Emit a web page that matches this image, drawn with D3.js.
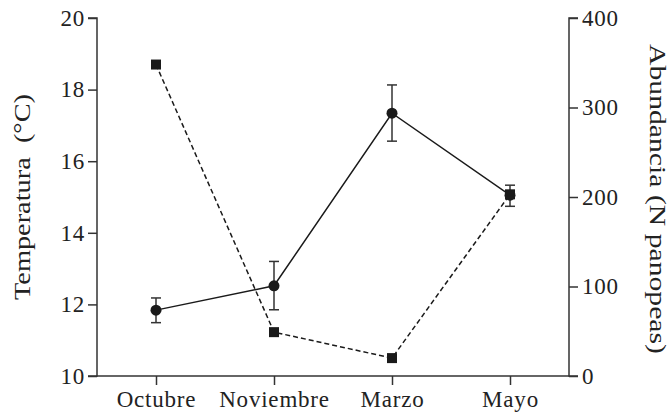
<!DOCTYPE html>
<html>
  <head>
    <meta charset="utf-8">
    <script src="https://cdn.jsdelivr.net/npm/d3@7"></script>
    <style>
      body {margin:0; background:#fff;}
      text {font-family:"Liberation Serif", serif; fill:#222;}
    </style>
  </head>
  <body>
  <script>
    // months on the x axis
    var meses = ["Octubre", "Noviembre", "Marzo", "Mayo"];
    // temperature (mean, low, high)
    var temp = [11.84, 12.52, 17.34, 15.05];
    var tempLo = [11.49, 11.85, 16.56, 14.74];
    var tempHi = [12.18, 13.20, 18.13, 15.33];
    // abundance of panopeas
    var abund = [348, 49, 20, 203];
    var tempTicks = [10, 12, 14, 16, 18, 20];
    var abundTicks = [0, 100, 200, 300, 400];

    var width = 670, height = 414;
    // note: "top" is taken by window.top, so use other names
    var mLeft = 97, mRight = 569, mTop = 18, mBottom = 376;

    var svg = d3.select("body").append("svg")
        .attr("width", width)
        .attr("height", height);

    var x = d3.scalePoint().domain(meses).range([mLeft, mRight]).padding(0.5);
    var yT = d3.scaleLinear().domain([10, 20]).range([mBottom, mTop]);
    var yA = d3.scaleLinear().domain([0, 400]).range([mBottom, mTop]);

    var fs = "23px";

    svg.append("g")
        .attr("transform", "translate(" + mLeft + ",0)")
        .call(d3.axisLeft(yT).tickValues(tempTicks).tickSize(9).tickPadding(3))
        .call(function(g) { g.select(".domain").attr("d", "M-9," + mTop + "H0V" + mBottom + "H-9"); });

    svg.append("g")
        .attr("transform", "translate(" + mRight + ",0)")
        .call(d3.axisRight(yA).tickValues(abundTicks).tickSize(9).tickPadding(4))
        .call(function(g) { g.select(".domain").attr("d", "M9," + mTop + "H0V" + mBottom + "H9"); });

    svg.append("g")
        .attr("transform", "translate(0," + mBottom + ")")
        .call(d3.axisBottom(x).tickSize(9).tickPadding(6))
        .call(function(g) { g.select(".domain").attr("d", "M" + mLeft + ",0H" + mRight); });

    svg.selectAll(".tick text").style("font-size", fs).style("letter-spacing", "0.8px").attr("fill", "#222");
    svg.selectAll(".domain, .tick line").attr("stroke", "#333").attr("stroke-width", 1.5);

    // axis titles (stretched a bit, the original font is wider)
    svg.append("text")
        .attr("transform", "translate(30," + ((mTop + mBottom) / 2) + ") rotate(-90)")
        .attr("text-anchor", "middle")
        .style("font-size", "24px")
        .style("white-space", "pre")
        .attr("textLength", 206)
        .attr("lengthAdjust", "spacingAndGlyphs")
        .text("Temperatura  (°C)");

    svg.append("text")
        .attr("transform", "translate(650," + ((mTop + mBottom) / 2 + 2) + ") rotate(90)")
        .attr("text-anchor", "middle")
        .style("font-size", "24px")
        .attr("textLength", 310)
        .attr("lengthAdjust", "spacingAndGlyphs")
        .text("Abundancia (N panopeas)");

    // temperature series
    var idx = d3.range(meses.length);
    var lineT = d3.line().x(function(i) { return x(meses[i]); }).y(function(i) { return yT(temp[i]); });
    svg.append("path").attr("d", lineT(idx))
        .attr("fill", "none").attr("stroke", "#1a1a1a").attr("stroke-width", 1.5);

    var eb = svg.append("g").attr("stroke", "#333").attr("stroke-width", 1.5);
    idx.forEach(function(i) {
      var cx = x(meses[i]);
      eb.append("line").attr("x1", cx).attr("x2", cx).attr("y1", yT(tempLo[i])).attr("y2", yT(tempHi[i]));
      eb.append("line").attr("x1", cx - 5).attr("x2", cx + 5).attr("y1", yT(tempLo[i])).attr("y2", yT(tempLo[i]));
      eb.append("line").attr("x1", cx - 5).attr("x2", cx + 5).attr("y1", yT(tempHi[i])).attr("y2", yT(tempHi[i]));
    });

    svg.selectAll("circle").data(idx).enter().append("circle")
        .attr("cx", function(i) { return x(meses[i]); })
        .attr("cy", function(i) { return yT(temp[i]); })
        .attr("r", 5.5)
        .attr("fill", "#1a1a1a");

    // abundance series
    var lineA = d3.line().x(function(i) { return x(meses[i]); }).y(function(i) { return yA(abund[i]); });
    svg.append("path").attr("d", lineA(idx))
        .attr("fill", "none").attr("stroke", "#1a1a1a").attr("stroke-width", 1.5)
        .attr("stroke-dasharray", "5,3");

    svg.selectAll("rect.sq").data(idx).enter().append("rect")
        .attr("class", "sq")
        .attr("x", function(i) { return x(meses[i]) - 5; })
        .attr("y", function(i) { return yA(abund[i]) - 5; })
        .attr("width", 10).attr("height", 10)
        .attr("fill", "#1a1a1a");
  </script>
  </body>
</html>
